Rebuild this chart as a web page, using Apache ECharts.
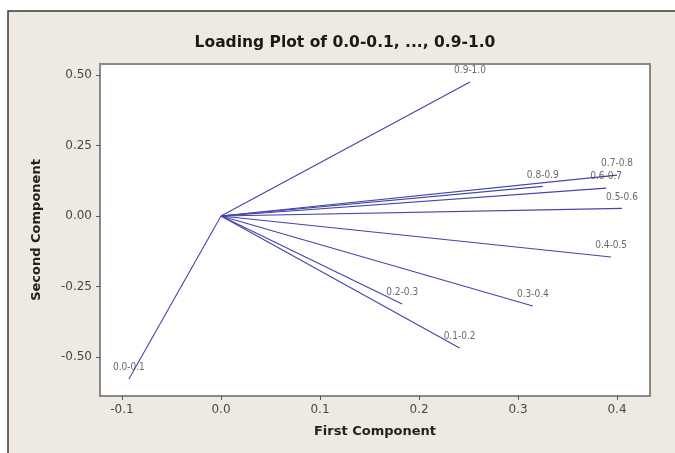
<!DOCTYPE html>
<html>
<head>
<meta charset="utf-8">
<script src="https://cdn.jsdelivr.net/npm/echarts@6/dist/echarts.min.js"></script>
<style>html,body{margin:0;padding:0;background:#fff}#c{width:675px;height:453px}</style>
</head>
<body>
<div id="c"></div>
<script>
const categories = ['0.0-0.1','0.1-0.2','0.2-0.3','0.3-0.4','0.4-0.5','0.5-0.6','0.6-0.7','0.7-0.8','0.8-0.9','0.9-1.0'];
const firstComponent  = [-0.093, 0.241, 0.183, 0.315, 0.394, 0.405, 0.389, 0.400, 0.325, 0.2515];
const secondComponent = [-0.578, -0.468, -0.312, -0.319, -0.145, 0.027, 0.099, 0.145, 0.105, 0.475];
const xTicks = [-0.1, 0.0, 0.1, 0.2, 0.3, 0.4];
const yTicks = [-0.5, -0.25, 0.0, 0.25, 0.5];
const titleText = 'Loading Plot of 0.0-0.1, ..., 0.9-1.0';

const chart = echarts.init(document.getElementById('c'), null, {renderer: 'canvas'});
const FONT = '"DejaVu Sans", sans-serif';
const FONTC = '"DejaVu Sans Condensed", "DejaVu Sans", sans-serif';
const LINE = '#4444aa';

const series = categories.map((name, i) => ({
  type: 'line',
  name: name,
  data: [[0, 0], [firstComponent[i], secondComponent[i]]],
  symbol: 'none',
  lineStyle: {color: LINE, width: 1.1},
  silent: true,
  z: 2
}));
series.push({
  type: 'scatter',
  data: categories.map((name, i) => ({name: name, value: [firstComponent[i], secondComponent[i]]})),
  symbolSize: 1,
  itemStyle: {color: 'rgba(0,0,0,0)'},
  label: {
    show: true, position: 'top', distance: 6,
    formatter: p => p.name,
    color: '#45453a', fontSize: 10, fontFamily: FONTC
  },
  z: 3
});

chart.setOption({
  animation: false,
  backgroundColor: '#ffffff',
  graphic: [
    {type: 'rect', shape: {x: 8, y: 11, width: 700, height: 500},
     style: {fill: '#eeeae1', stroke: '#3a3a3a', lineWidth: 1.5}, z: -10, silent: true},
    {type: 'text', x: 345, y: 43,
     style: {text: titleText, textAlign: 'center', textVerticalAlign: 'middle',
             font: 'bold 15.5px ' + FONT, fill: '#1a1a1a'}, silent: true}
  ],
  grid: {left: 100, right: 25, top: 64, bottom: 57, show: true,
         backgroundColor: '#ffffff', borderColor: '#888888', borderWidth: 2},
  xAxis: {
    type: 'value', min: -0.1222, max: 0.4333,
    name: 'First Component', nameLocation: 'middle', nameGap: 29,
    nameTextStyle: {fontFamily: FONT, fontWeight: 'bold', fontSize: 13, color: '#222'},
    axisLine: {show: false, onZero: false},
    splitLine: {show: false},
    axisTick: {show: true, length: 4, customValues: xTicks, lineStyle: {color: '#555'}},
    axisLabel: {customValues: xTicks, margin: 8, formatter: v => v.toFixed(1),
                fontFamily: FONT, fontSize: 12, color: '#484848'}
  },
  yAxis: {
    type: 'value', min: -0.638, max: 0.539,
    name: 'Second Component', nameLocation: 'middle', nameGap: 57, nameRotate: 90,
    nameTextStyle: {fontFamily: FONT, fontWeight: 'bold', fontSize: 13, color: '#222'},
    axisLine: {show: false, onZero: false},
    splitLine: {show: false},
    axisTick: {show: true, length: 4, customValues: yTicks, lineStyle: {color: '#555'}},
    axisLabel: {customValues: yTicks, margin: 8, formatter: v => v.toFixed(2),
                fontFamily: FONT, fontSize: 12, color: '#484848'}
  },
  series: series
});
</script>
</body>
</html>
